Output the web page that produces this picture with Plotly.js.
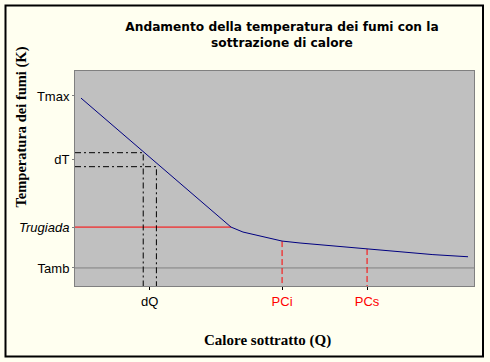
<!DOCTYPE html>
<html>
<head>
<meta charset="utf-8">
<script src="https://cdn.plot.ly/plotly-3.0.1.min.js"></script>
<style>
html,body{margin:0;padding:0;background:#fffff0;}
#chart{width:490px;height:362px;}
</style>
</head>
<body>
<div id="chart"></div>
<script>
// Curve: heat removed (Q) vs flue gas temperature (T), arbitrary units
const curveQ = [1.5, 39.1, 42.1, 46.4, 51.9, 56.4, 64.7, 73.2, 81.5, 89.7, 98.5];
const curveT = [87.4, 27.4, 25.1, 23.3, 20.9, 20.0, 18.6, 17.2, 15.8, 14.6, 13.6];

// Y reference levels
const yTickVals = [88.4, 58.8, 27.4, 8.4];
const yTickText = ['Tmax', 'dT', '<i>Trugiada</i>', 'Tamb'];
const tRugiada = 27.4;
const tAmb = 8.4;

// dT / dQ construction
const dTLevels = [62.0, 55.5];
const dQLevels = [17.1, 20.4];

// PCi / PCs points
const pcQ = [51.9, 73.2];
const pcT = [20.9, 17.2];

// X tick labels
const xTickVals = [18.7, 51.9, 73.2];
const xTickText = ['dQ', '<span style="color:#ff0000">PCi</span>', '<span style="color:#ff0000">PCs</span>'];

const traces = [];
traces.push({x: [0, 100], y: [tAmb, tAmb], mode: 'lines', line: {color: '#808080', width: 1}});
traces.push({x: [0, curveQ[1]], y: [tRugiada, tRugiada], mode: 'lines', line: {color: '#ff0000', width: 1}});
for (let i = 0; i < dTLevels.length; i++) {
  traces.push({x: [0, dQLevels[i], dQLevels[i]], y: [dTLevels[i], dTLevels[i], 0], mode: 'lines',
    line: {color: '#000000', width: 1, dash: '6px,3px,2px,3px'}});
}
for (let i = 0; i < pcQ.length; i++) {
  traces.push({x: [pcQ[i], pcQ[i]], y: [pcT[i], 0], mode: 'lines',
    line: {color: '#ff0000', width: 1, dash: '6px,3px'}});
}
traces.push({x: curveQ, y: curveT, mode: 'lines', line: {color: '#000080', width: 1}});

const L = 75, R = 16, Tm = 71, B = 76, W = 490, H = 362;
const pw = W - L - R, ph = H - Tm - B;
const px = v => (v - L) / pw;
const py = v => (H - B - v) / ph;

const layout = {
  width: W, height: H,
  margin: {l: L, r: R, t: Tm, b: B, pad: 0},
  paper_bgcolor: '#fffff0',
  plot_bgcolor: '#c0c0c0',
  showlegend: false,
  font: {family: '"Liberation Sans", Arial, sans-serif', size: 13, color: '#000000'},
  title: {
    text: 'Andamento della temperatura dei fumi con la<br>sottrazione di calore',
    font: {family: '"DejaVu Sans", Verdana, sans-serif', size: 12.2, color: '#000000', weight: 'bold'},
    x: px(282), xref: 'paper', xanchor: 'center',
    y: 1 - 31 / H, yref: 'container', yanchor: 'middle'
  },
  xaxis: {
    range: [0, 100], showgrid: false, zeroline: false,
    showline: true, mirror: true, linecolor: '#808080', linewidth: 1,
    tickmode: 'array', tickvals: xTickVals, ticktext: xTickText,
    ticks: 'outside', ticklen: 3, tickcolor: '#000000', tickwidth: 1,
    tickfont: {size: 13}, fixedrange: true
  },
  yaxis: {
    range: [0, 100], showgrid: false, zeroline: false,
    showline: true, mirror: true, linecolor: '#808080', linewidth: 1,
    tickmode: 'array', tickvals: yTickVals, ticktext: yTickText,
    ticks: 'outside', ticklen: 2, tickcolor: '#808080', tickwidth: 1,
    tickfont: {size: 13}, fixedrange: true
  },
  annotations: [
    {text: 'Temperatura dei fumi (K)', textangle: -90, showarrow: false,
     xref: 'paper', yref: 'paper', x: px(21), y: py(127.5), xanchor: 'center', yanchor: 'middle',
     font: {family: '"Liberation Serif", "Times New Roman", serif', size: 14.5, color: '#000000', weight: 'bold'}},
    {text: 'Calore sottratto (Q)', showarrow: false,
     xref: 'paper', yref: 'paper', x: px(267), y: py(340.7), xanchor: 'center', yanchor: 'middle',
     font: {family: '"Liberation Serif", "Times New Roman", serif', size: 15, color: '#000000', weight: 'bold'}}
  ],
  shapes: [
    {type: 'rect', xref: 'paper', yref: 'paper', x0: px(5.5), x1: px(483), y0: py(356.5), y1: py(5.5),
     line: {color: '#000000', width: 2}, fillcolor: 'rgba(0,0,0,0)'}
  ]
};

Plotly.newPlot('chart', traces, layout, {staticPlot: true, displayModeBar: false});
</script>
</body>
</html>
